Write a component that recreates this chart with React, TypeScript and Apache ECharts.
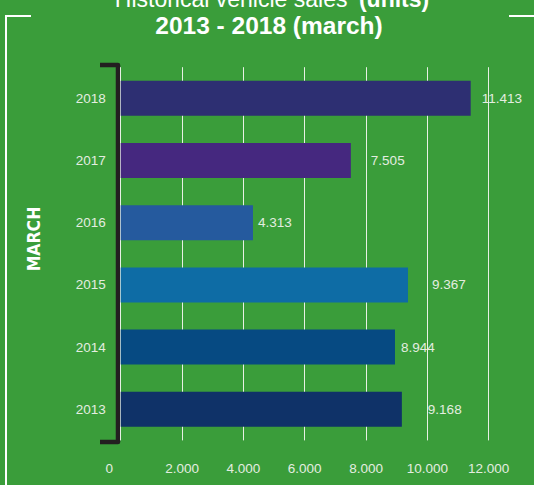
import React, { useEffect, useRef } from "react";
import * as echarts from "echarts";

const years = ["2013", "2014", "2015", "2016", "2017", "2018"];
const sales = [9168, 8944, 9367, 4313, 7505, 11413];
const barColors = ["#0f3268", "#064a82", "#0e6ca5", "#255a9e", "#45287f", "#2d2f72"];
const axisTicks = [0, 2000, 4000, 6000, 8000, 10000, 12000];

const fmt = (v: number) => String(v).replace(/\B(?=(\d{3})+(?!\d))/g, ".");

export default function App() {
  const ref = useRef<HTMLDivElement>(null);
  useEffect(() => {
    if (!ref.current) return;
    const chart = echarts.init(ref.current, null, { renderer: "svg" });
    const labelGaps = [26, 6, 24, 5, 20, 11];
    const txt = "#e4ede0";
    const font = "Liberation Sans, Arial, sans-serif";
    chart.setOption({
      animation: false,
      backgroundColor: "#3a9d3a",
      textStyle: { fontFamily: font },
      grid: { left: 120.7, right: 45.3, top: 67.2, bottom: 44.6 },
      xAxis: {
        type: "value",
        min: axisTicks[0],
        max: axisTicks[axisTicks.length - 1],
        interval: axisTicks[1] - axisTicks[0],
        axisLine: { show: false },
        axisTick: { show: false },
        splitLine: { show: true, lineStyle: { color: "#e8f0e4", width: 1 } },
        axisLabel: {
          color: txt,
          fontSize: 13.5,
          fontFamily: font,
          margin: 21,
          formatter: (v: number) => (v === 0 ? "{z|0}" : fmt(v)),
          rich: { z: { padding: [0, 23, 0, 0], color: txt, fontSize: 13.5, fontFamily: font } },
        },
      },
      yAxis: {
        type: "category",
        data: years,
        axisLine: { show: false },
        axisTick: { show: false },
        axisLabel: { color: txt, fontSize: 13.5, fontFamily: font, margin: 15 },
      },
      series: [
        {
          type: "bar",
          barWidth: 35,
          data: sales.map((v, i) => ({
            value: v,
            itemStyle: { color: barColors[i] },
            label: { distance: labelGaps[i] },
          })),
          label: {
            show: true,
            position: "right",
            color: txt,
            fontSize: 13.5,
            fontFamily: font,
            formatter: (p: any) => fmt(p.value),
          },
        },
      ],
      graphic: [
        {
          type: "polyline",
          shape: { points: [[6, 485], [6, 16], [31, 16]] },
          style: { stroke: "#ffffff", lineWidth: 2, fill: null },
        },
        {
          type: "line",
          shape: { x1: 509, y1: 16, x2: 534, y2: 16 },
          style: { stroke: "#ffffff", lineWidth: 2 },
        },
        {
          type: "polyline",
          shape: { points: [[100, 65], [118, 65], [118, 442], [100, 442]] },
          style: { stroke: "#231f20", lineWidth: 4.5, fill: null, lineJoin: "round" },
        },
        {
          type: "text",
          x: 272,
          y: 10,
          style: {
            text: "{l|Historical vehicle sales\"} {b|(units)}",
            textAlign: "center",
            textVerticalAlign: "bottom",
            rich: {
              l: { fill: "#ffffff", fontSize: 23, fontFamily: font, fontWeight: "normal" },
              b: { fill: "#ffffff", fontSize: 23, fontFamily: font, fontWeight: "bold" },
            },
          },
        },
        {
          type: "text",
          x: 269,
          y: 25,
          style: {
            text: "2013 - 2018 (march)",
            textAlign: "center",
            textVerticalAlign: "middle",
            fill: "#ffffff",
            fontSize: 24.5,
            fontWeight: "bold",
            fontFamily: font,
          },
        },
        {
          type: "text",
          x: 34,
          y: 239,
          rotation: Math.PI / 2,
          style: {
            text: "MARCH",
            textAlign: "center",
            textVerticalAlign: "middle",
            fill: "#ffffff",
            fontSize: 17.5,
            fontWeight: "bold",
            fontFamily: "DejaVu Sans Condensed, DejaVu Sans, sans-serif",
          },
        },
      ],
    });
    return () => chart.dispose();
  }, []);
  return (
    <div
      ref={ref}
      style={{ position: "fixed", left: 0, top: 0, width: 534, height: 485 }}
    />
  );
}
